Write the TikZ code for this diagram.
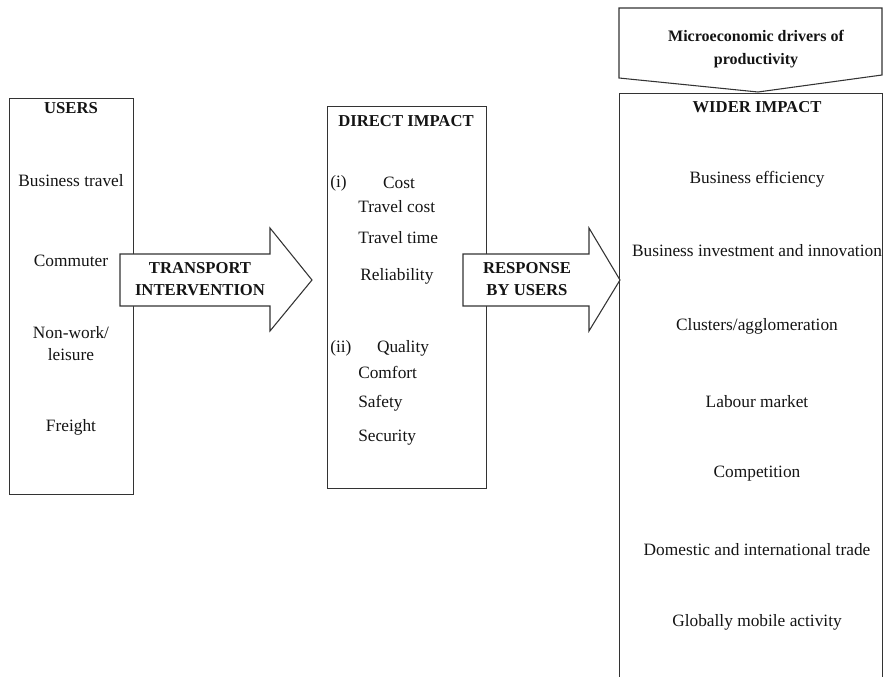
\documentclass[tikz,border=0pt]{standalone}
\usepackage{fontspec}
\setmainfont{Liberation Serif}
\usetikzlibrary{positioning}

\begin{document}
\begin{tikzpicture}[
    x=0.75pt, y=-0.75pt,
    every node/.style={font=\fontsize{13}{16.5}\selectfont, text=black!92, inner sep=0pt},
    box/.style={draw=black!80, line width=0.8pt, anchor=north west},
    blockarrow/.style={draw=black!80, line width=0.8pt, fill=white, line join=miter},
    heading/.style={font=\fontsize{12.5}{17}\selectfont\bfseries, align=center},
    listitem/.style={anchor=west},
]
  \useasboundingbox (0,0) rectangle (883,676);
  \clip (0,0) rectangle (883,676);

  % boxes
  \node[box, minimum width=93pt, minimum height=297pt] (users) at (9,98) {};
  \node[box, minimum width=119.25pt, minimum height=286.5pt] (direct) at (327,106) {};
  \node[box, minimum width=197.25pt, minimum height=500pt] (wider) at (619,93) {};
  \draw[blockarrow] (619,8) -- (882,8) -- (882,75) -- (758,92) -- (619,78) -- cycle;

  % block arrows
  \draw[blockarrow] (120,254) -- (270,254) -- (270,228) -- (312,280)
    -- (270,331) -- (270,306) -- (120,306) -- cycle;
  \draw[blockarrow] (463,254) -- (589,254) -- (589,228) -- (620,280)
    -- (589,331) -- (589,306) -- (463,306) -- cycle;
  \node[heading] (transport) at (200,279) {TRANSPORT\\INTERVENTION};
  \node[heading] (response) at (527,279) {RESPONSE\\BY USERS};

  % users
  \node[heading] (usershead) at (71,108) {USERS};
  \node (business) at (71,181) {Business travel};
  \node (commuter) at (71,261) {Commuter};
  \node[align=center] (leisure) at (71,344) {Non-work/\\leisure};
  \node (freight) at (71,427) {Freight};

  % direct impact
  \node[heading] (directhead) at (406,121) {DIRECT IMPACT};
  \node[listitem] (costno) at (330,183) {(i)};
  \node (cost) at (399,183) {Cost};
  \node[listitem] (travelcost) at (358,207) {Travel cost};
  \node[listitem] (traveltime) at (358,238) {Travel time};
  \node[listitem] (reliability) at (360,276) {Reliability};
  \node[listitem] (qualno) at (330,348) {(ii)};
  \node (quality) at (403,348) {Quality};
  \node[listitem] (comfort) at (358,372) {Comfort};
  \node[listitem] (safety) at (358,403) {Safety};
  \node[listitem] (security) at (358,438) {Security};

  % wider impact
  \node[heading, font=\fontsize{12}{17}\selectfont\bfseries] (drivers) at (756,49) {Microeconomic drivers of\\productivity};
  \node[heading] (widerhead) at (757,107) {WIDER IMPACT};
  \foreach \y/\txt [count=\i] in {179/Business efficiency,
      251/Business investment and innovation, 326/Clusters\slash agglomeration,
      402/Labour market, 474/Competition, 550/Domestic and international trade,
      622/Globally mobile activity}
    \node (wide\i) at (757,\y) {\txt};
\end{tikzpicture}
\end{document}
